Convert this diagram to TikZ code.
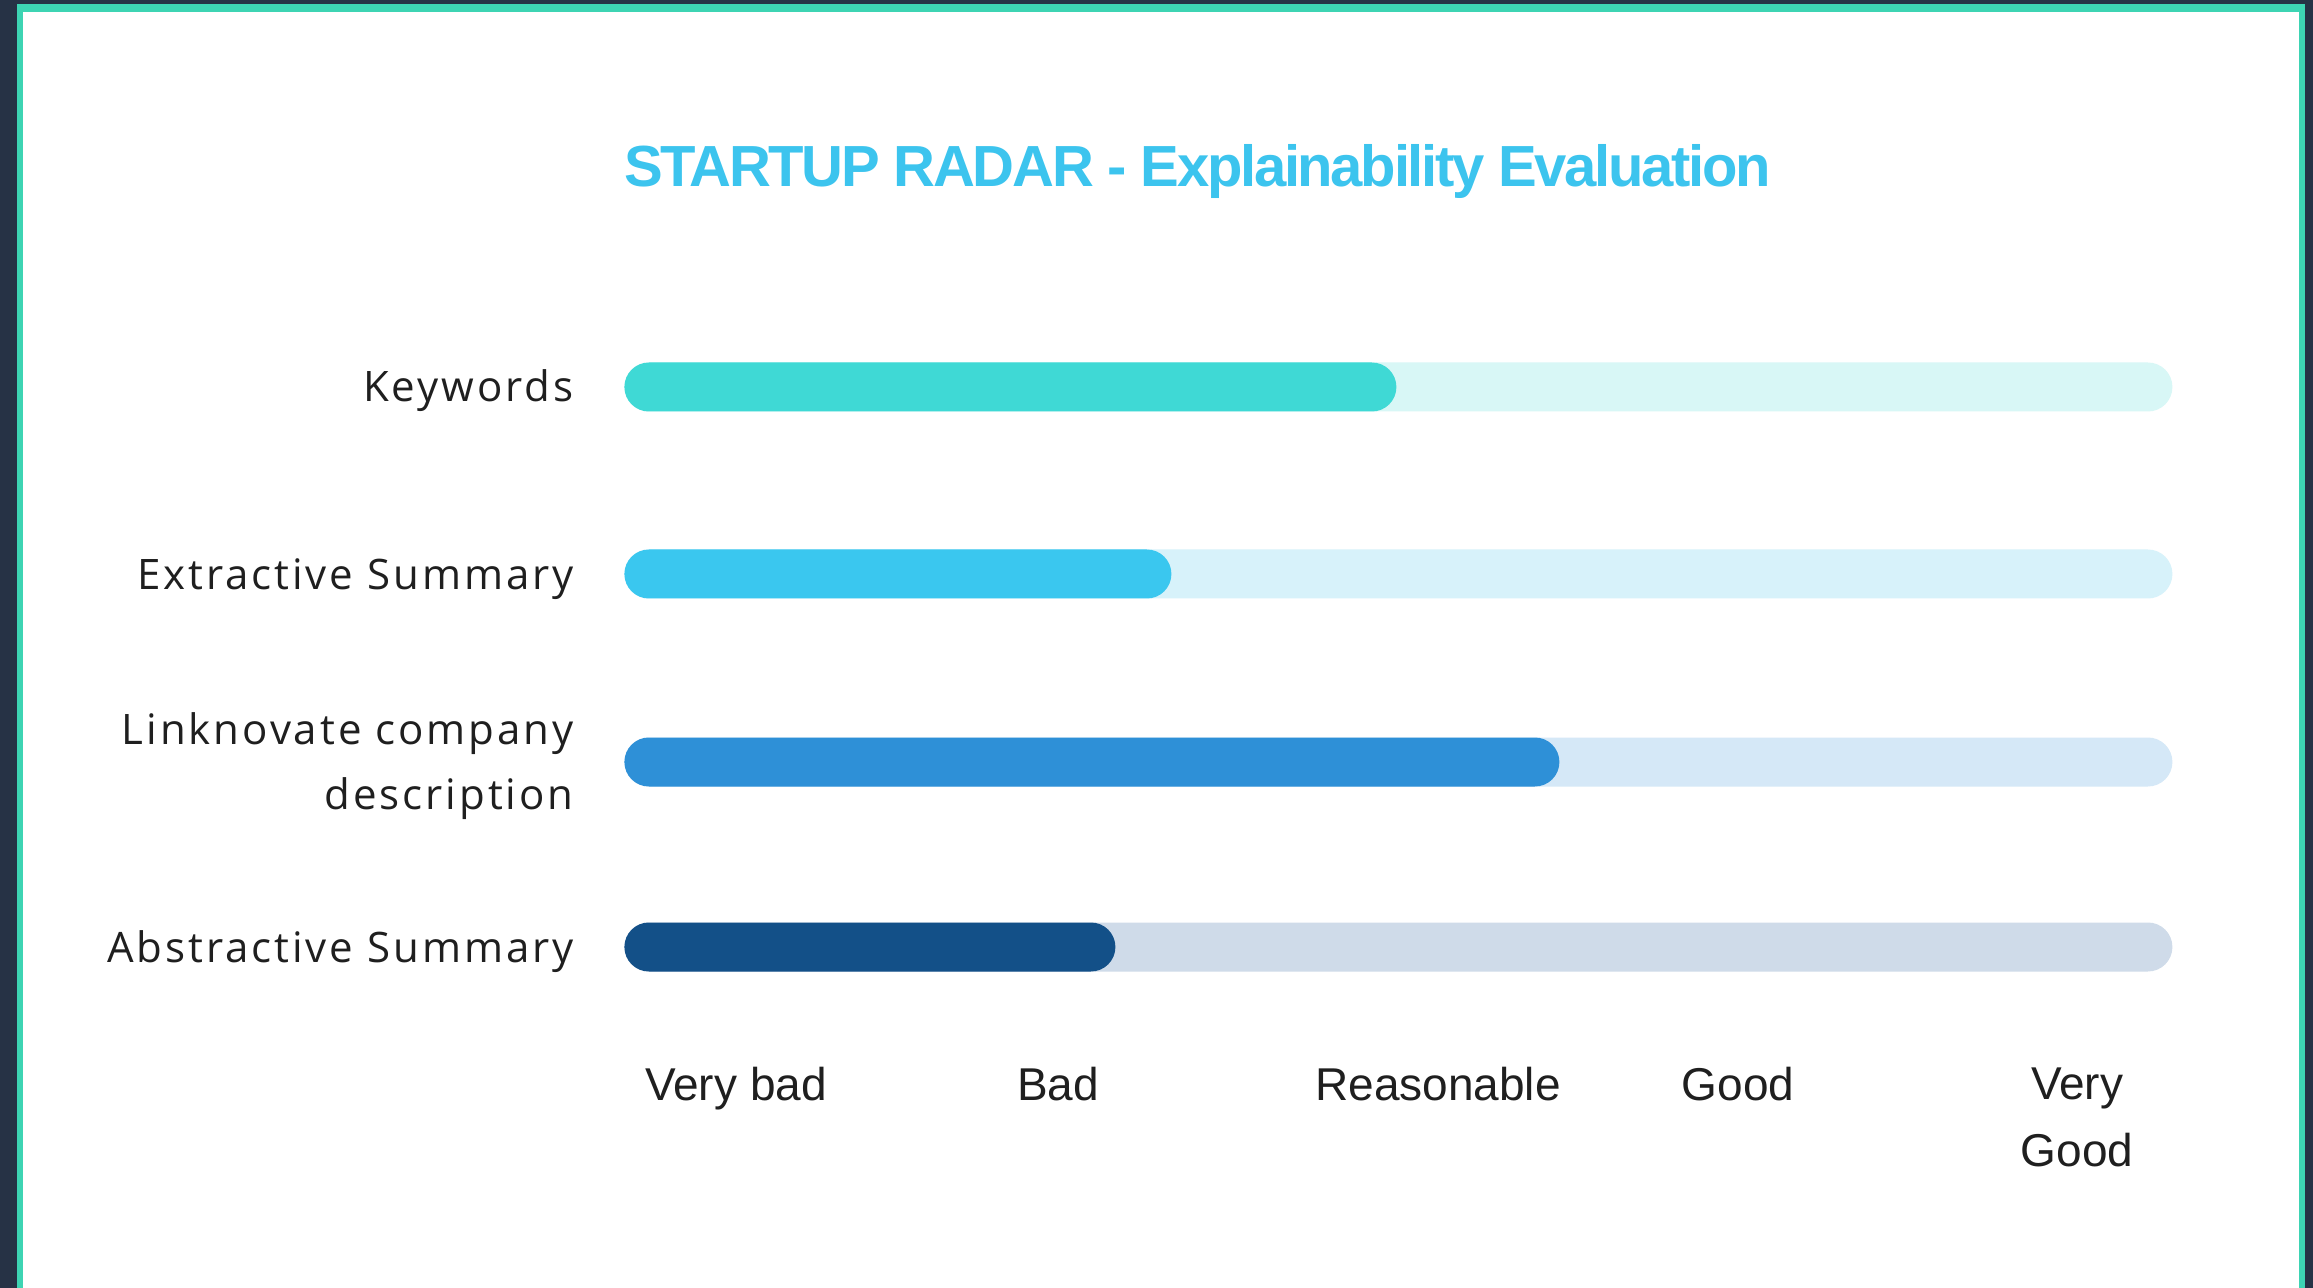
\documentclass[tikz,border=0pt]{standalone}
\usepackage{fontspec}
\usepackage{xcolor}
\usepackage{tikz}
\usetikzlibrary{shapes,shapes.misc}
\usetikzlibrary{positioning,calc}
\newfontfamily\titlefont[LetterSpace=-4]{Liberation Sans}
\newfontfamily\rowfont[LetterSpace=7]{Open Sans}
\newfontfamily\axisfont{Liberation Sans}
\definecolor{pagebg}{HTML}{263245}
\definecolor{framecol}{HTML}{3DD4B3}
\definecolor{titlecol}{HTML}{3CC4EE}
\definecolor{kwfg}{HTML}{3FD9D5}
\definecolor{kwbg}{HTML}{D8F7F6}
\definecolor{exfg}{HTML}{3AC7EF}
\definecolor{exbg}{HTML}{D7F2FA}
\definecolor{lnfg}{HTML}{2E90D7}
\definecolor{lnbg}{HTML}{D5E8F7}
\definecolor{abfg}{HTML}{135088}
\definecolor{abbg}{HTML}{CFDBE9}
\colorlet{textcol}{black!88}
\tikzset{%
  bartrack/.style={%
    rounded rectangle, inner sep=0pt, draw=none,
    minimum height=24.5pt, minimum width=774pt, anchor=west
  },
  barfill/.style={%
    rounded rectangle, inner sep=0pt, draw=none,
    minimum height=24.5pt, anchor=west
  },
  rowlabel/.style={%
    inner sep=0pt, text depth=0pt, align=right,
    text=textcol, font={\rowfont\fontsize{21}{32.5}\selectfont}
  },
  axislabel/.style={%
    inner sep=0pt, anchor=north, align=center,
    text=textcol, font={\axisfont\fontsize{23}{33.5}\selectfont}
  }
}

\begin{document}
\begin{tikzpicture}[x=0.5pt,y=-0.5pt]
\useasboundingbox (0,0) rectangle (2313,1288);
\fill[pagebg] (0,0) rectangle (2313,1288);
\fill[framecol] (17,4.5) rectangle (2305,1288);
\fill[white] (23,12) rectangle (2299,1288);

\node[anchor=base west, inner sep=0pt, text=titlecol,
  font={\titlefont\bfseries\fontsize{29}{34}\selectfont}]
  (title) at (624,187) {STARTUP RADAR - Explainability Evaluation};

% one row: track, filled part, label (text height = cap height of the block)
\foreach \row/\y/\len/\fg/\bg/\th/\lab in {%
  kw/387/386/kwfg/kwbg/15/{Keywords},
  ex/574/273.5/exfg/exbg/15/{Extractive Summary},
  ln/762/467.5/lnfg/lnbg/47.5/{Linknovate company\\description},
  ab/947/245.5/abfg/abbg/15/{Abstractive Summary}} {
  \node[bartrack, fill=\bg] (\row track) at (624,\y) {};
  \node[barfill, fill=\fg, minimum width=\len pt] (\row fill) at (\row track.west) {};
  \node[rowlabel, text height=\th pt, left=25pt of \row track.west] (\row label) {\lab};
};

\foreach \x/\lab [count=\i] in {736/{Very bad},1058/{Bad},1438/{Reasonable},
  1738/{Good},2077/{Very\\Good}} {
  \node[axislabel] (axis\i) at (\x,1067) {\lab};
};
\end{tikzpicture}
\end{document}
